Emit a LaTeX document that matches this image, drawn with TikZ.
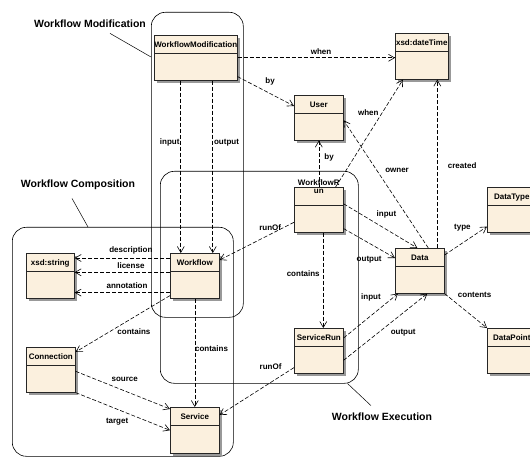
\documentclass[tikz,border=0pt]{standalone}
\usepackage{fontspec}
\setmainfont{Liberation Sans}
\usetikzlibrary{arrows.meta, shadows}
\definecolor{boxfill}{RGB}{251,240,222}

\begin{document}
\begin{tikzpicture}[
    x=1pt, y=-1pt,
    every node/.style={font=\fontsize{8}{9}\selectfont\bfseries},
    cls/.style={rectangle, draw=black!85, line width=0.6pt, fill=boxfill, anchor=north west, align=center,
        minimum width=49pt, minimum height=45pt, inner sep=0pt, text height=12pt, text depth=33pt,
        drop shadow={shadow xshift=2.5pt, shadow yshift=-2.5pt, fill=black!40, opacity=1},
        path picture={\draw[black!85, line width=0.6pt] ([yshift=-18pt]path picture bounding box.north west) -- ([yshift=-18pt]path picture bounding box.north east);}},
    grp/.style={draw, rounded corners=14pt, line width=0.6pt, anchor=north west, inner sep=0pt},
    grpcap/.style={font=\fontsize{10.5}{12}\selectfont\bfseries},
    rel/.style={dashed, dash pattern=on 4pt off 2pt, line width=0.6pt, -{Straight Barb[length=6pt, width=7pt]}}
]
\useasboundingbox (0,0) rectangle (530,457);

% Grouping frames
\node[grp, minimum width=92pt, minimum height=305pt] (modframe) at (151,12) {};
\node[grp, minimum width=221pt, minimum height=229pt] (compframe) at (12,227) {};
\node[grp, minimum width=198pt, minimum height=212pt] (execframe) at (160,171) {};

% Frame captions
\node[grpcap] (modcap) at (90,24) {Workflow Modification};
\node[grpcap] (compcap) at (78,185) {Workflow Composition};
\node[grpcap] (execcap) at (382,417) {Workflow Execution};
\draw[line width=0.5pt] ([xshift=20pt, yshift=-2pt]modcap.south) -- ([yshift=-45pt]modframe.north west);
\draw[line width=0.5pt] ([xshift=-6pt, yshift=-5pt]compcap.south) -- ([xshift=76pt]compframe.north west);
\draw[line width=0.5pt] ([xshift=-11pt]execframe.south east) -- ([xshift=-11pt, yshift=4pt]execcap.north);

% Classes
\node[cls, minimum width=82pt] (wfmod) at (154,35) {WorkflowModification};
\node[cls, minimum width=53pt, minimum height=46pt, text depth=34pt] (datetime) at (395,33) {xsd:dateTime};
\node[cls] (user) at (294,95) {User};
\node[cls, text height=6pt, text depth=39pt] (wfrun) at (294,187) {WorkflowR\\[-1pt]un};
\node[cls] (workflow) at (170,253) {Workflow};
\node[cls, minimum width=48pt] (xstring) at (26,253) {xsd:string};
\node[cls] (data) at (395,248) {Data};
\node[cls] (datatype) at (487,187) {DataType};
\node[cls] (datapoint) at (487,328) {DataPoint};
\node[cls] (servicerun) at (294,328) {ServiceRun};
\node[cls] (connection) at (26,347) {Connection};
\node[cls, minimum height=46pt, text depth=34pt] (service) at (170,407) {Service};

% Modification links
\draw[rel] (wfmod.east) -- node[above, pos=0.53] {when} (wfmod.east -| datetime.west);
\draw[rel] ([yshift=4pt]wfmod.south east) -- node[above right, pos=0.43] {by} ([yshift=-11pt]user.north west);
\draw[rel] ([xshift=-15pt]wfmod.south) -- node[left, pos=0.36, inner sep=1pt] {input} ([xshift=-15pt]wfmod.south |- workflow.north);
\draw[rel] ([xshift=17pt]wfmod.south) -- node[right, pos=0.36, inner sep=1pt] {output} ([xshift=17pt]wfmod.south |- workflow.north);

% Execution links
\draw[rel] (wfrun.north) -- node[right=2pt, pos=0.64] {by} (user.south);
\draw[rel] ([xshift=-8pt]wfrun.north east) -- node[left, pos=0.69] {when} ([xshift=8pt]datetime.south west);
\draw[rel] ([yshift=6pt]wfrun.east) -- node[above right, pos=0.4] {input} ([xshift=-2.5pt]data.north);
\draw[rel] ([yshift=4pt]wfrun.south east) -- node[below left, pos=0.81] {output} ([yshift=-10pt]data.north west);
\draw[rel] ([yshift=-12.5pt]wfrun.west) -- node[above, pos=0.32] {runOf} ([yshift=-7pt]workflow.north east);
\draw[rel] ([xshift=4.5pt]wfrun.south) -- node[left, pos=0.43] {contains} ([xshift=4.5pt]wfrun.south |- servicerun.north);
\draw[rel] ([yshift=-10pt]servicerun.north east) -- node[above left, pos=0.75] {input} ([xshift=3pt]data.south west);
\draw[rel] ([yshift=-9.5pt]servicerun.east) -- node[below right, pos=0.52] {output} ([xshift=7.5pt]data.south);
\draw[rel] ([yshift=6pt]servicerun.south west) -- node[above left, pos=0.12] {runOf} ([yshift=-8pt]service.north east);

% Data links
\draw[rel] ([xshift=8.5pt]data.north) -- node[right=5pt, pos=0.61] {owner} ([yshift=-2.5pt]user.east);
\draw[rel] ([xshift=17.5pt]data.north) -- node[right=7pt, pos=0.49] {created} ([xshift=17.5pt]data.north |- datetime.south);
\draw[rel] ([yshift=-7pt]data.north east) -- node[above left, pos=0.7] {type} ([yshift=6pt]datatype.south west);
\draw[rel] (data.south east) -- node[above right, pos=0.23] {contents} (datapoint.north west);

% Composition links
\draw[rel] ([yshift=-5pt]workflow.north west) -- node[above, pos=0.41] {description} ([yshift=-5pt]workflow.north west -| xstring.east);
\draw[rel] ([yshift=3.5pt]workflow.west) -- node[above, pos=0.41] {license} ([yshift=3.5pt]workflow.west -| xstring.east);
\draw[rel] ([yshift=6pt]workflow.south west) -- node[above, pos=0.45] {annotation} ([yshift=6pt]workflow.south west -| xstring.east);
\draw[rel] ([yshift=3pt]workflow.south west) -- node[below right, pos=0.57, inner sep=1pt] {contains} ([yshift=-5pt]connection.north east);
\draw[rel] (workflow.south) -- node[right, pos=0.46, inner sep=0pt] {contains} (service.north);
\draw[rel] ([yshift=-1.5pt]connection.east) -- node[above=6pt, pos=0.52] {source} ([yshift=-2pt]service.north west);
\draw[rel] (connection.south east) -- node[below=5pt, pos=0.44] {target} (service.west);

\end{tikzpicture}
\end{document}
